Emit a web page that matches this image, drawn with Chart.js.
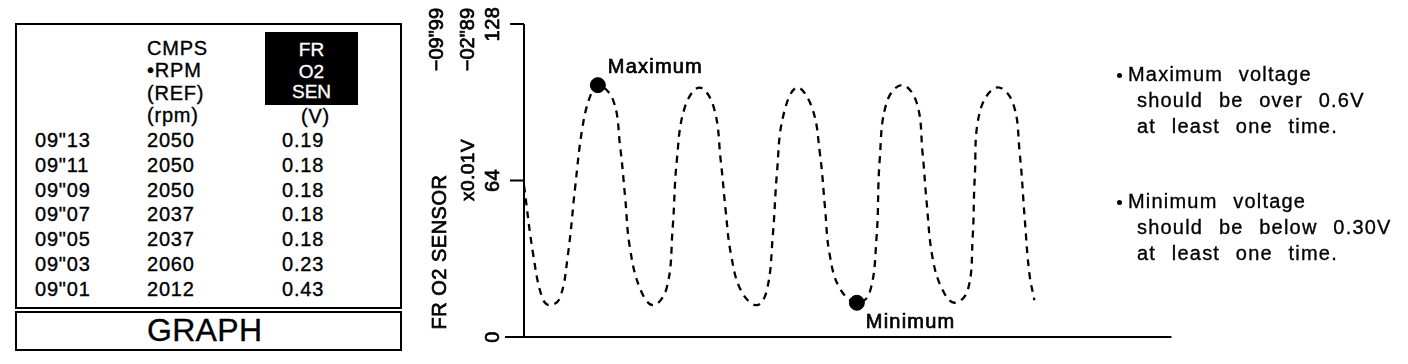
<!DOCTYPE html>
<html>
<head>
<meta charset="utf-8">
<script src="https://cdn.jsdelivr.net/npm/chart.js@4/dist/chart.umd.min.js"></script>
<style>
  html, body { margin: 0; padding: 0; background: #fff; }
  body { width: 1408px; height: 364px; position: relative; overflow: hidden; font-family: 'Liberation Sans', Arial, sans-serif; color: #000; }
  .abs { position: absolute; white-space: nowrap; line-height: 1; -webkit-text-stroke: 0.35px #000; }
  #dataBox { position: absolute; left: 15px; top: 23px; width: 383px; height: 282px; border: 2px solid #000; }
  #graphBox { position: absolute; left: 15px; top: 311px; width: 383px; height: 36px; border: 2px solid #000; }
  #senBox { position: absolute; left: 265px; top: 32px; width: 93px; height: 73px; background: #000; }
  .cell { font-size: 20px; letter-spacing: 0.8px; }
  .white { -webkit-text-stroke: 0.35px #fff; color: #fff; font-size: 19px; width: 93px; text-align: center; letter-spacing: 0; }
  .note { font-size: 20px; letter-spacing: 1.2px; word-spacing: 9px; }
  .big { font-size: 32px; letter-spacing: 0.3px; }
  .dot { position: absolute; width: 5px; height: 5px; border-radius: 50%; background: #000; }
  #chartWrap { position: absolute; left: 400px; top: 0; width: 780px; height: 364px; }
</style>
</head>
<body>
<div id="dataBox"></div>
<div id="graphBox"></div>
<div id="senBox"></div>
<div id="chartWrap"><canvas id="o2Chart" width="780" height="364"></canvas></div>
<script>
// freeze frame table (newest first)
const frameTimes = ['09"13', '09"11', '09"09', '09"07', '09"05', '09"03', '09"01'];
const rpmValues = ['2050', '2050', '2050', '2037', '2037', '2060', '2012'];
const o2Values = ['0.19', '0.18', '0.18', '0.18', '0.18', '0.23', '0.43'];
const rpmHeader = ['CMPS', '•RPM', '(REF)', '(rpm)'];
const o2Header = ['FR', 'O2', 'SEN'];
const o2Unit = '(V)';
const buttonText = 'GRAPH';

// waveform (time in samples, value in x0.01V)
const waveTime = [0, 1.8, 3.6, 5.1, 7.1, 8.7, 10.1, 11.5, 13.0, 14.6,
    17.6, 19.0, 20.0, 20.9, 22.9, 25.5, 28.2, 29.4, 30.2, 31.8, 34.7,
    37.5, 38.9, 39.9, 40.9, 42.9, 46.0, 48.0, 49.2, 50.0, 51.2, 53.9,
    56.9, 58.5, 59.5, 60.4, 62.4, 65.8, 68.3, 69.7, 70.3, 71.7, 74.7,
    77.6, 78.8, 79.6, 80.8, 82.8, 85.1, 87.7, 88.7, 89.1, 90.1, 93.4,
    96.6, 98.0, 99.0, 99.9, 100.9];
const waveValue = [62, 34, 16, 13, 16, 34, 61, 85, 98, 103,
    97, 78, 57, 37, 20, 13, 20, 45, 72, 94, 102,
    94, 72, 51, 34, 19, 13, 19, 42, 67, 90, 102,
    94, 75, 53, 34, 20, 14, 18, 41, 72, 96, 103,
    96, 75, 55, 32, 19, 14, 19, 41, 65, 92, 102,
    96, 75, 48, 26, 15];

const markerLabels = ['Maximum', 'Minimum'];
const markerTime = [14.6, 65.8];
const markerValue = [103, 14];

const yTicks = [0, 64, 128];
const yTitle = ['FR O2 SENSOR', 'x0.01V'];
const topLabels = ['\u221209"99', '\u221202"89'];

const notes = [
    ['Maximum voltage', 'should be over 0.6V', 'at least one time.'],
    ['Minimum voltage', 'should be below 0.30V', 'at least one time.']
];

// put a line of text with its baseline at y
function place(text, left, baseline, cls) {
    const el = document.createElement('div');
    el.className = 'abs ' + cls;
    el.textContent = text;
    el.style.left = left + 'px';
    const size = cls.includes('big') ? 32 : (cls.includes('white') ? 19 : 20);
    el.style.top = (baseline - Math.round(size * 0.905)) + 'px';
    document.body.appendChild(el);
    return el;
}

// table
const headerBase = [56, 78, 101, 123];
rpmHeader.forEach((t, i) => place(t, 147, headerBase[i], 'cell'));
const senBase = [57, 79, 99];
o2Header.forEach((t, i) => place(t, 265, senBase[i], 'white'));
place(o2Unit, 301, 124, 'cell');
frameTimes.forEach((t, i) => {
    const b = 148 + i * 24.8;
    place(t, 35, b, 'cell');
    place(rpmValues[i], 147, b, 'cell');
    place(o2Values[i], 282, b, 'cell');
});
place(buttonText, 147, 343, 'big');

// notes on the right
const noteBase = [82, 209];
notes.forEach((lines, n) => {
    lines.forEach((t, i) => {
        place(t, i === 0 ? 1128 : 1137, noteBase[n] + i * 26, 'note');
    });
    const d = document.createElement('div');
    d.className = 'dot';
    d.style.left = '1117px';
    d.style.top = (noteBase[n] - 9) + 'px';
    document.body.appendChild(d);
});

const scopePlugin = {
    id: 'scope',
    afterDraw(chart) {
        const { ctx, chartArea } = chart;
        const x = chart.scales.x;
        const y = chart.scales.y;
        const left = chartArea.left;
        const y0 = y.getPixelForValue(0);
        ctx.save();
        ctx.strokeStyle = '#000';
        ctx.fillStyle = '#000';
        ctx.lineWidth = 2;
        ctx.beginPath();
        ctx.moveTo(left, y.getPixelForValue(128));
        ctx.lineTo(left, y0);
        ctx.moveTo(left - 19, y0);
        ctx.lineTo(chartArea.right, y0);
        yTicks.forEach(v => {
            const py = y.getPixelForValue(v);
            ctx.moveTo(left - 14, py);
            ctx.lineTo(left, py);
        });
        ctx.stroke();

        const write = (t, px, py, align, size, spacing) => {
            ctx.font = size + "px 'Liberation Sans'";
            ctx.letterSpacing = (spacing || 0) + 'px';
            ctx.textAlign = align;
            ctx.textBaseline = 'alphabetic';
            ctx.lineWidth = 0.7;
            ctx.fillText(t, px, py);
            ctx.strokeText(t, px, py);
        };
        // rotated text reading upwards, cx = centre of the capitals
        const vtext = (t, cx, cy, align, size, spacing) => {
            ctx.save();
            ctx.translate(cx + size * 0.36, cy);
            ctx.rotate(-Math.PI / 2);
            write(t, 0, 0, align, size, spacing);
            ctx.restore();
        };
        yTicks.forEach(v => {
            vtext(String(v), left - 32, y.getPixelForValue(v), 'center', 20, 0.5);
        });
        vtext(yTitle[0], 39, 252, 'center', 20, 0.5);
        vtext(yTitle[1], 67, 170, 'center', 19, 0.5);
        // these hang down from the top edge
        vtext(topLabels[0], 36, 8, 'right', 20, 0);
        vtext(topLabels[1], 67, 8, 'right', 20, 0);

        markerLabels.forEach((t, i) => {
            const px = x.getPixelForValue(markerTime[i]);
            const py = y.getPixelForValue(markerValue[i]);
            if (i === 0) write(t, px + 10, py - 12, 'left', 20, 1.2);
            else write(t, px + 9, py + 25, 'left', 20, 1.2);
        });
        ctx.restore();
    }
};

new Chart(document.getElementById('o2Chart'), {
    type: 'line',
    data: {
        datasets: [{
            label: 'FR O2 SEN',
            data: waveTime.map((t, i) => ({ x: t, y: waveValue[i] })),
            borderColor: '#000',
            borderWidth: 2.3,
            borderDash: [7, 6],
            pointRadius: 0,
            tension: 0.4,
            fill: false
        }, {
            label: 'Markers',
            data: markerTime.map((t, i) => ({ x: t, y: markerValue[i] })),
            showLine: false,
            pointRadius: 7.5,
            pointBackgroundColor: '#000',
            pointBorderColor: '#000',
            clip: false
        }]
    },
    options: {
        responsive: false,
        animation: false,
        devicePixelRatio: 1,
        layout: { padding: { left: 124, top: 24, right: 8, bottom: 27 } },
        scales: {
            x: { type: 'linear', min: 0, max: 128, display: false },
            y: { min: 0, max: 128, display: false }
        },
        plugins: {
            legend: { display: false },
            tooltip: { enabled: false }
        }
    },
    plugins: [scopePlugin]
});
</script>
</body>
</html>
